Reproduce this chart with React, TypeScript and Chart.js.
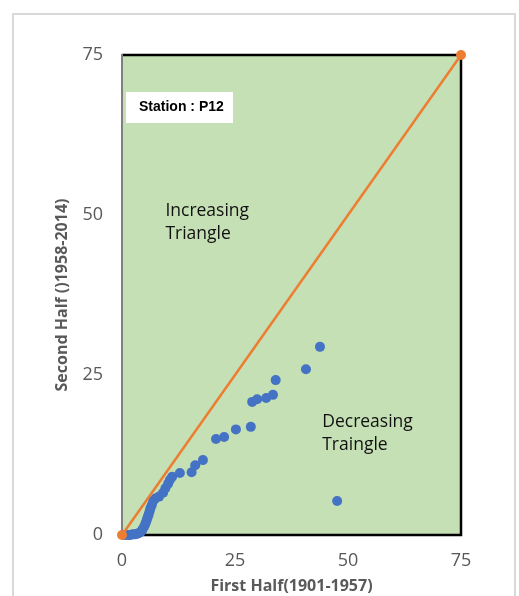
import React, { useEffect, useRef } from "react";
import { Chart, registerables } from "chart.js";

Chart.register(...registerables);

// Sorted annual values: first half (1901-1957) vs second half (1958-2014)
const firstHalf = [
  0.4, 0.9, 1.4, 1.9, 2.4, 2.9, 3.4, 3.8, 4.2, 4.5, 4.8, 5.1, 5.3, 5.5, 5.7,
  5.9, 6.1, 6.3, 6.6, 6.9, 7.4, 8.2, 9.1, 9.6, 10.2, 10.6, 11.1, 12.8, 15.4,
  16.2, 17.9, 20.8, 22.6, 25.2, 28.5, 28.8, 29.9, 31.9, 33.4, 34.0, 40.7, 43.8,
  47.6,
];
const secondHalf = [
  0, 0, 0, 0, 0.1, 0.1, 0.2, 0.3, 0.5, 0.8, 1.2, 1.6, 2.0, 2.4, 2.8, 3.2, 3.7,
  4.2, 4.7, 5.3, 5.7, 6.0, 6.6, 7.3, 8.0, 8.6, 9.1, 9.7, 9.8, 10.9, 11.7, 15.0,
  15.3, 16.5, 16.9, 20.8, 21.2, 21.4, 21.9, 24.2, 25.9, 29.4, 5.3,
];

// 1:1 reference line
const lineX = [0, 75];
const lineY = [0, 75];

const axisMin = 0;
const axisMax = 75;
const axisStep = 25;

const stationLabel = "Station : P12";
const upperLabel = ["Increasing", "Triangle"];
const lowerLabel = ["Decreasing", "Traingle"];
const xTitle = "First Half(1901-1957)";
const yTitle = "Second Half ()1958-2014)";

const W = 519;
const H = 596;

const framePlugin = {
  id: "frame",
  beforeDraw(chart: any) {
    const { ctx } = chart;
    ctx.save();
    ctx.fillStyle = "#ffffff";
    ctx.fillRect(0, 0, W, H);
    ctx.strokeStyle = "#d9d9d9";
    ctx.lineWidth = 2;
    ctx.strokeRect(13, 14, 502, 700);
    ctx.restore();
  },
  beforeDatasetsDraw(chart: any) {
    const { ctx, chartArea: a } = chart;
    ctx.save();
    ctx.fillStyle = "#c5e0b4";
    ctx.fillRect(a.left, a.top, a.right - a.left, a.bottom - a.top);
    ctx.strokeStyle = "#000000";
    ctx.lineWidth = 2.5;
    ctx.beginPath();
    ctx.moveTo(a.left, a.top);
    ctx.lineTo(a.right, a.top);
    ctx.lineTo(a.right, a.bottom);
    ctx.lineTo(a.left, a.bottom);
    ctx.stroke();
    ctx.strokeStyle = "#7f7f7f";
    ctx.lineWidth = 2;
    ctx.beginPath();
    ctx.moveTo(a.left, a.top - 1);
    ctx.lineTo(a.left, a.bottom);
    ctx.stroke();

    // station box
    const xs = chart.scales.x;
    const ys = chart.scales.y;
    ctx.fillStyle = "#ffffff";
    ctx.fillRect(a.left + 4, a.top + 37, 107, 31);
    ctx.fillStyle = "#000000";
    ctx.font = "bold 14px 'Liberation Sans', Arial, sans-serif";
    ctx.textBaseline = "middle";
    ctx.textAlign = "left";
    ctx.fillText(stationLabel, a.left + 17, a.top + 52);

    ctx.font = "17.5px 'Open Sans', sans-serif";
    ctx.fillStyle = "#111111";
    const ux = xs.getPixelForValue(9.6);
    const uy = ys.getPixelForValue(50.6);
    upperLabel.forEach((t, i) => ctx.fillText(t, ux, uy + i * 23));
    const lx = xs.getPixelForValue(44.3);
    const ly = ys.getPixelForValue(17.6);
    lowerLabel.forEach((t, i) => ctx.fillText(t, lx, ly + i * 23));
    ctx.restore();
  },
};

export default function App() {
  const ref = useRef<HTMLCanvasElement | null>(null);

  useEffect(() => {
    if (!ref.current) return;
    const chart = new Chart(ref.current, {
      type: "scatter",
      data: {
        datasets: [
          {
            type: "line",
            data: lineX.map((x, i) => ({ x, y: lineY[i] })),
            borderColor: "#ed7d31",
            backgroundColor: "#ed7d31",
            borderWidth: 2.5,
            pointRadius: 5,
            pointBorderWidth: 0,
            showLine: true,
            clip: false,
          } as any,
          {
            data: firstHalf.map((x, i) => ({ x, y: secondHalf[i] })),
            backgroundColor: "#4472c4",
            borderColor: "#4472c4",
            pointRadius: 5,
            pointBorderWidth: 0,
            clip: false,
          } as any,
        ],
      },
      options: {
        responsive: false,
        animation: false,
        devicePixelRatio: 1,
        layout: { padding: { left: 12, right: 58, top: 55, bottom: 0 } },
        plugins: {
          legend: { display: false },
          tooltip: { enabled: false },
        },
        scales: {
          x: {
            type: "linear",
            min: axisMin,
            max: axisMax,
            ticks: {
              stepSize: axisStep,
              padding: 15,
              color: "#595959",
              font: { family: "'Open Sans', sans-serif", size: 18 },
            },
            grid: { display: false, drawTicks: false },
            border: { display: false },
            title: {
              display: true,
              text: xTitle,
              color: "#595959",
              font: { family: "'Open Sans', sans-serif", size: 16, weight: "bold" },
              padding: { top: 0, bottom: 0 },
            },
            afterFit: (s: any) => {
              s.height = 61;
            },
          },
          y: {
            type: "linear",
            min: axisMin,
            max: axisMax,
            ticks: {
              stepSize: axisStep,
              padding: 19,
              color: "#595959",
              font: { family: "'Open Sans', sans-serif", size: 18 },
            },
            grid: { display: false, drawTicks: false },
            border: { display: false },
            title: {
              display: true,
              text: yTitle,
              color: "#595959",
              font: { family: "'Open Sans', sans-serif", size: 16, weight: "bold" },
              padding: { top: 41, bottom: 0 },
            },
            afterFit: (s: any) => {
              s.width = 110;
            },
          },
        },
      } as any,
      plugins: [framePlugin],
    });
    return () => chart.destroy();
  }, []);

  return (
    <div style={{ position: "fixed", left: 0, top: 0, width: W, height: H }}>
      <canvas ref={ref} width={W} height={H} style={{ width: W, height: H }} />
    </div>
  );
}
